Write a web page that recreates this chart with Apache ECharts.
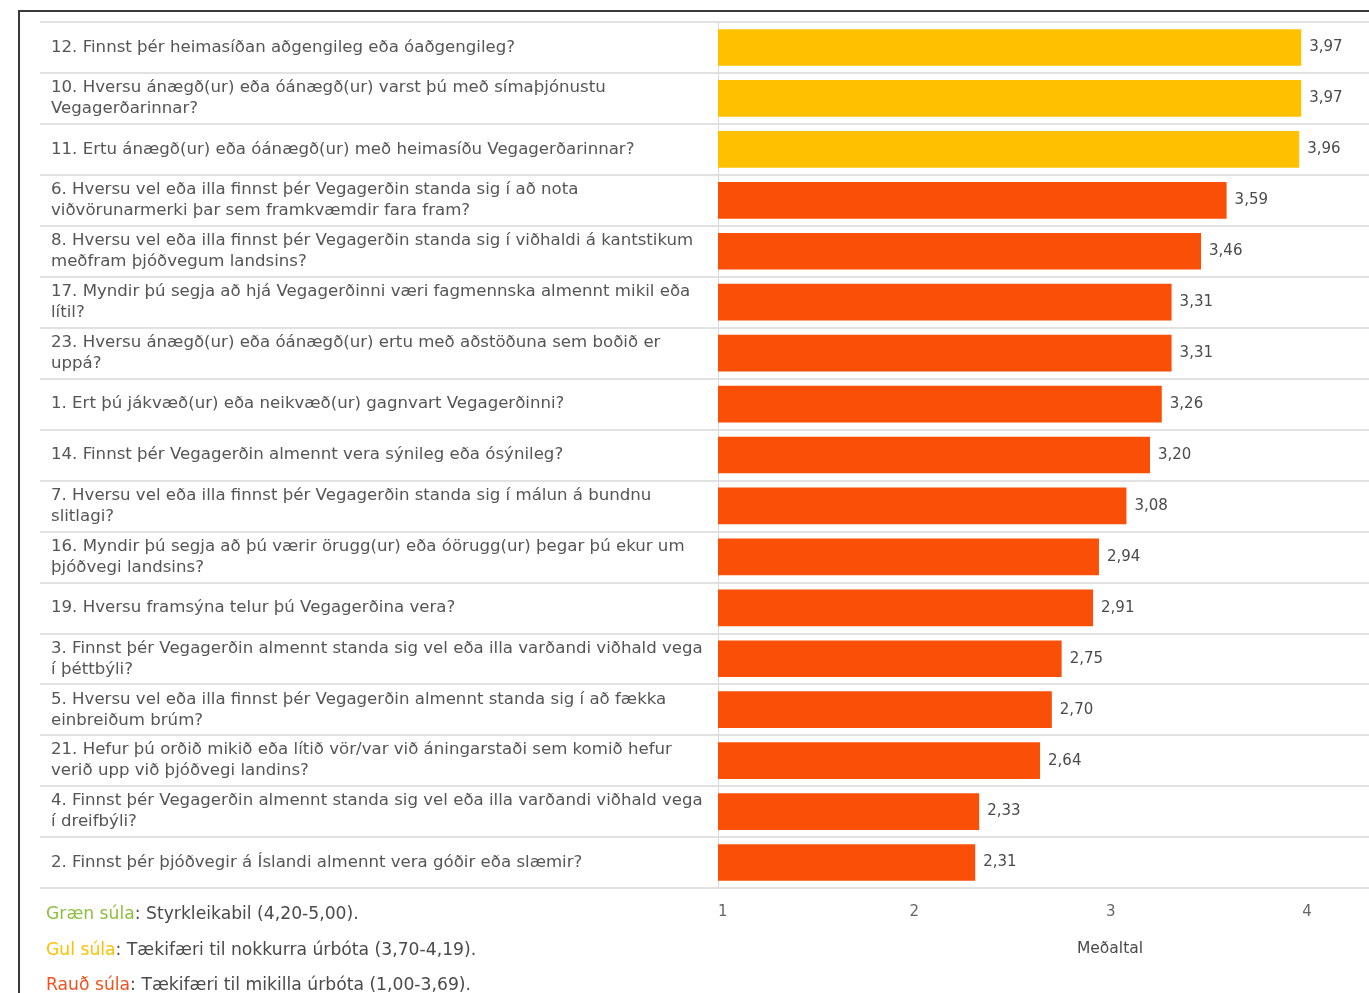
<!DOCTYPE html>
<html>
<head>
<meta charset="utf-8">
<script src="https://cdn.jsdelivr.net/npm/echarts@6/dist/echarts.min.js"></script>
<style>
html,body{margin:0;padding:0;background:#fff;}
#frame{position:absolute;left:18px;top:10px;width:1349px;height:981px;border-left:2px solid #3a3a3a;border-top:2px solid #3a3a3a;}
#chart{width:1349px;height:981px;}
</style>
</head>
<body>
<div id="frame"><div id="chart"></div></div>
<script>
// Questions, top to bottom as shown
const categories = [
  "12. Finnst þér heimasíðan aðgengileg eða óaðgengileg?",
  "10. Hversu ánægð(ur) eða óánægð(ur) varst þú með símaþjónustu\nVegagerðarinnar?",
  "11. Ertu ánægð(ur) eða óánægð(ur) með heimasíðu Vegagerðarinnar?",
  "6. Hversu vel eða illa finnst þér Vegagerðin standa sig í að nota\nviðvörunarmerki þar sem framkvæmdir fara fram?",
  "8. Hversu vel eða illa finnst þér Vegagerðin standa sig í viðhaldi á kantstikum\nmeðfram þjóðvegum landsins?",
  "17. Myndir þú segja að hjá Vegagerðinni væri fagmennska almennt mikil eða\nlítil?",
  "23. Hversu ánægð(ur) eða óánægð(ur) ertu með aðstöðuna sem boðið er\nuppá?",
  "1. Ert þú jákvæð(ur) eða neikvæð(ur) gagnvart Vegagerðinni?",
  "14. Finnst þér Vegagerðin almennt vera sýnileg eða ósýnileg?",
  "7. Hversu vel eða illa finnst þér Vegagerðin standa sig í málun á bundnu\nslitlagi?",
  "16. Myndir þú segja að þú værir örugg(ur) eða óörugg(ur) þegar þú ekur um\nþjóðvegi landsins?",
  "19. Hversu framsýna telur þú Vegagerðina vera?",
  "3. Finnst þér Vegagerðin almennt standa sig vel eða illa varðandi viðhald vega\ní þéttbýli?",
  "5. Hversu vel eða illa finnst þér Vegagerðin almennt standa sig í að fækka\neinbreiðum brúm?",
  "21. Hefur þú orðið mikið eða lítið vör/var við áningarstaði sem komið hefur\nverið upp við þjóðvegi landins?",
  "4. Finnst þér Vegagerðin almennt standa sig vel eða illa varðandi viðhald vega\ní dreifbýli?",
  "2. Finnst þér þjóðvegir á Íslandi almennt vera góðir eða slæmir?"
];
const meanValues = [3.97, 3.97, 3.96, 3.59, 3.46, 3.31, 3.31, 3.26, 3.20, 3.08, 2.94, 2.91, 2.75, 2.70, 2.64, 2.33, 2.31];
const xTicks = [1, 2, 3, 4];
const axisTitle = "Meðaltal";
const legendLines = [
  ["Græn súla", ": Styrkleikabil (4,20-5,00)."],
  ["Gul súla", ": Tækifæri til nokkurra úrbóta (3,70-4,19)."],
  ["Rauð súla", ": Tækifæri til mikilla úrbóta (1,00-3,69)."]
];
const thresholds = [4.20, 3.70];

const GREEN = '#8cbf3f', YELLOW = '#ffc000', RED = '#f94f06';
function colorFor(v){ return v >= thresholds[0] ? GREEN : (v >= thresholds[1] ? YELLOW : RED); }
const fmt = v => v.toFixed(2).replace('.', ',');
const FONT = 'DejaVu Sans';
const LBL = 16.6;
const LEG = 17.2;

const chart = echarts.init(document.getElementById('chart'), null, {renderer:'canvas'});
const legendText = legendLines.map((l,i)=>'{c'+i+'|'+l[0]+'}{t|'+l[1]+'}').join('\n');

chart.setOption({
  animation:false,
  textStyle:{fontFamily:FONT},
  grid:[
    {left:20, top:10, bottom:105, right:0},
    {left:698, top:10, bottom:105, right:0}
  ],
  xAxis:[
    {gridIndex:0, type:'value', show:false, min:0, max:1},
    {gridIndex:1, type:'value', min:1, max:4.3, interval:1,
     axisLine:{show:false}, axisTick:{show:false}, splitLine:{show:false},
     axisLabel:{color:'#666', fontSize:15, margin:17, fontFamily:FONT, alignMinLabel:'left',
       formatter:v => xTicks.indexOf(v) >= 0 ? String(v) : ''},
     name:axisTitle, nameLocation:'middle', nameGap:53,
     nameTextStyle:{color:'#4a4a4a', fontSize:15.5, fontFamily:FONT, padding:[0,0,0,136]}}
  ],
  yAxis:[
    {gridIndex:0, type:'category', data:categories, inverse:true,
     axisLine:{show:false}, axisTick:{show:false},
     splitLine:{show:true, lineStyle:{color:'#e2e2e2', width:2}},
     axisLabel:{inside:true, margin:11, color:'#555', fontSize:LBL, lineHeight:21, fontFamily:FONT, interval:0}},
    {gridIndex:1, type:'category', data:categories, inverse:true,
     axisLine:{show:true, lineStyle:{color:'#dadada', width:1}}, axisTick:{show:false},
     axisLabel:{show:false}, splitLine:{show:false}}
  ],
  series:[{
    type:'bar', xAxisIndex:1, yAxisIndex:1,
    data:meanValues.map(v=>({value:v, itemStyle:{color:colorFor(v)}})),
    barCategoryGap:'28%',
    label:{show:true, position:'right', distance:8, color:'#4a4a4a', fontSize:15, fontFamily:FONT,
      formatter:p=>fmt(p.value)}
  }],
  title:{
    left:21, top:880,
    text:legendText,
    textStyle:{fontSize:LEG, fontWeight:'normal', fontFamily:FONT, lineHeight:35.5, color:'#4a4a4a',
      rich:{
        c0:{color:GREEN, fontSize:LEG, fontFamily:FONT, lineHeight:35.5},
        c1:{color:YELLOW, fontSize:LEG, fontFamily:FONT, lineHeight:35.5},
        c2:{color:'#f4511e', fontSize:LEG, fontFamily:FONT, lineHeight:35.5},
        t:{color:'#4a4a4a', fontSize:LEG, fontFamily:FONT, lineHeight:35.5}
      }}
  }
});
</script>
</body>
</html>
